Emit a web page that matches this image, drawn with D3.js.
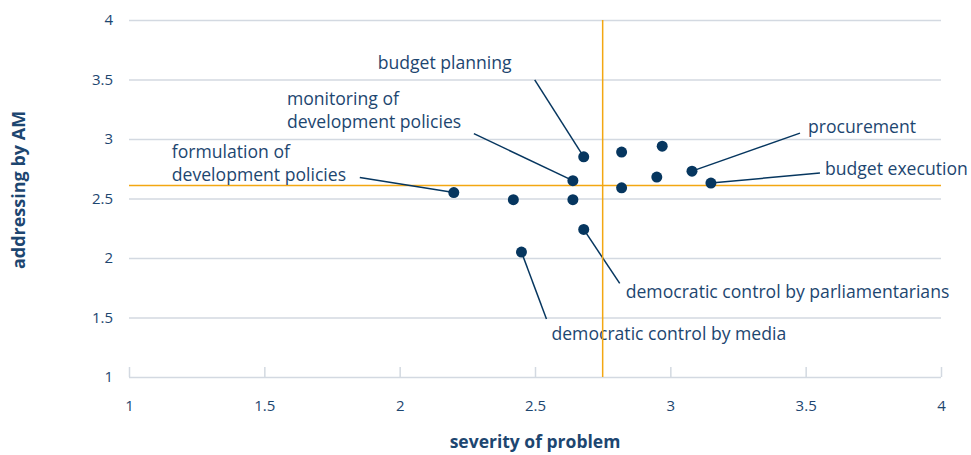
<!DOCTYPE html>
<html>
<head>
<meta charset="utf-8">
<script src="https://cdn.jsdelivr.net/npm/d3@7"></script>
<style>
  body { margin: 0; background: #fff; }
  text { font-family: "Open Sans", sans-serif; fill: #1d4670; }
</style>
</head>
<body>
<div id="chart"></div>
<script>
// data: severity (x) vs addressing by AM (y)
var labels = [
    ["formulation of", "development policies"],
    ["monitoring of", "development policies"],
    ["budget planning"],
    ["procurement"],
    ["budget execution"],
    ["democratic control by parliamentarians"],
    ["democratic control by media"],
    null, null, null, null, null, null
];
var severity   = [2.20, 2.64, 2.68, 3.08, 3.15, 2.68, 2.45, 2.42, 2.64, 2.82, 2.82, 2.97, 2.95];
var addressing = [2.55, 2.65, 2.85, 2.73, 2.63, 2.24, 2.05, 2.49, 2.49, 2.89, 2.59, 2.94, 2.68];
var xTicks = [1, 1.5, 2, 2.5, 3, 3.5, 4];
var yTicks = [1, 1.5, 2, 2.5, 3, 3.5, 4];
var meanSeverity = 2.75;
var meanAddressing = 2.61;

// label placement, pixel offsets from the dot (layout only)
var labelOffsets = [
    { tx: -282, ty: -35, lx: -94, ly: -15 },
    { tx: -286, ty: -76, lx: -99, ly: -47 },
    { tx: -206, ty: -88, lx: -49, ly: -77 },
    { tx: 116, ty: -38, lx: 108, ly: -38 },
    { tx: 114, ty: -8, lx: 109, ly: -10 },
    { tx: 42, ty: 69, lx: 36, ly: 54 },
    { tx: 30, ty: 88, lx: 25, ly: 67 }
];

var W = 971, H = 455;
var margin = { top: 20, right: 30, bottom: 78, left: 129 };
var width = W - margin.left - margin.right;
var height = H - margin.top - margin.bottom;

var navy = "#06365f";
var grid = "#d3d9e1";
var orange = "#f3a712";

var svg = d3.select("#chart").append("svg")
    .attr("width", W)
    .attr("height", H);

var g = svg.append("g")
    .attr("transform", "translate(" + margin.left + "," + margin.top + ")");

var xScale = d3.scaleLinear().domain([1, 4]).range([0, width]);
var yScale = d3.scaleLinear().domain([1, 4]).range([height, 0]);

// horizontal grid lines
var yAxis = g.append("g")
    .attr("class", "y axis")
    .call(d3.axisLeft(yScale).tickValues(yTicks).tickSize(-width).tickPadding(16)
        .tickFormat(d3.format("")));
yAxis.select(".domain").remove();
yAxis.selectAll(".tick line").attr("stroke", grid).attr("stroke-width", 1.5);
yAxis.selectAll(".tick text")
    .style("font-size", "15px")
    .attr("fill", "#1d4670");

// bottom axis with small upward ticks
var xAxis = g.append("g")
    .attr("class", "x axis")
    .attr("transform", "translate(0," + height + ")")
    .call(d3.axisBottom(xScale).tickValues(xTicks).tickSizeInner(-10).tickSizeOuter(0)
        .tickPadding(23).tickFormat(d3.format("")));
xAxis.select(".domain").remove();
xAxis.selectAll(".tick line").attr("stroke", grid).attr("stroke-width", 1.5);
xAxis.selectAll(".tick text")
    .style("font-size", "15px")
    .attr("fill", "#1d4670");

// mean lines
g.append("line")
    .attr("x1", 0).attr("x2", width)
    .attr("y1", yScale(meanAddressing)).attr("y2", yScale(meanAddressing))
    .attr("stroke", orange).attr("stroke-width", 1.5);

// axis titles
svg.append("text")
    .attr("x", margin.left + xScale(2.5))
    .attr("y", 448)
    .attr("text-anchor", "middle")
    .style("font-size", "17.5px")
    .style("font-weight", "bold")
    .text("severity of problem");

svg.append("text")
    .attr("transform", "translate(25,190) rotate(-90)")
    .attr("text-anchor", "middle")
    .style("font-size", "18px")
    .style("font-weight", "bold")
    .text("addressing by AM");

var points = severity.map(function (d, i) {
    return { x: d, y: addressing[i], label: labels[i], off: labelOffsets[i] };
});

// leader lines + labels
var ann = g.append("g");
points.forEach(function (p) {
    if (!p.label) return;
    var px = xScale(p.x), py = yScale(p.y);
    ann.append("line")
        .attr("x1", px).attr("y1", py)
        .attr("x2", px + p.off.lx).attr("y2", py + p.off.ly)
        .attr("stroke", navy).attr("stroke-width", 1.5);
    var t = ann.append("text")
        .attr("x", px + p.off.tx)
        .attr("y", py + p.off.ty)
        .style("font-size", "17.6px");
    p.label.forEach(function (line, k) {
        t.append("tspan")
            .attr("x", px + p.off.tx)
            .attr("dy", k === 0 ? 0 : 23)
            .text(line);
    });
});

g.append("line")
    .attr("x1", xScale(meanSeverity)).attr("x2", xScale(meanSeverity))
    .attr("y1", 0).attr("y2", height)
    .attr("stroke", orange).attr("stroke-width", 1.5);

// dots
g.append("g").selectAll("circle")
    .data(points)
    .enter().append("circle")
    .attr("cx", function (d) { return xScale(d.x); })
    .attr("cy", function (d) { return yScale(d.y); })
    .attr("r", 5.5)
    .attr("fill", navy);
</script>
</body>
</html>
